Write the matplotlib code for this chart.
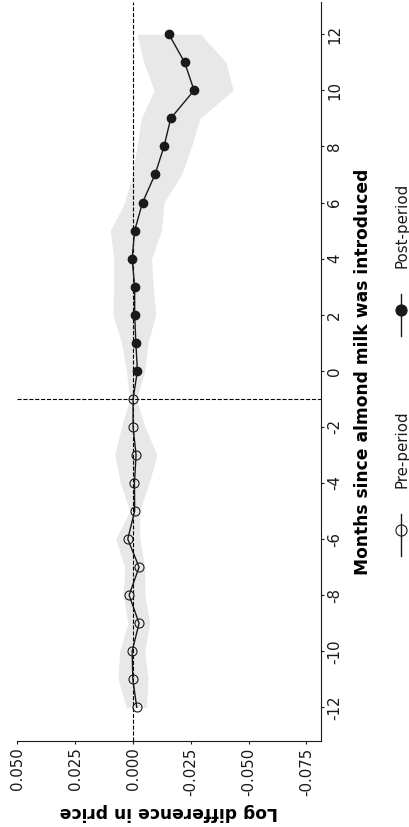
import numpy as np
import matplotlib.pyplot as plt
from matplotlib.lines import Line2D

# event-study estimates, months relative to almond milk launch
months = [-12, -11, -10, -9, -8, -7, -6, -5, -4, -3, -2, -1,
          0, 1, 2, 3, 4, 5, 6, 7, 8, 9, 10, 11, 12]
estimate = [-0.0016, 0.0001, 0.0004, -0.0026, 0.0017, -0.0026, 0.0023, -0.0007,
            -0.0006, -0.0013, 0.0000, 0.0000,
            -0.0019, -0.0012, -0.0007, -0.0007, 0.0004, -0.0007, -0.0041,
            -0.0095, -0.0134, -0.0163, -0.0264, -0.0223, -0.0155]
ci_upper = [0.0029, 0.0065, 0.0058, 0.0022, 0.0043, 0.0036, 0.0075, 0.0014,
            0.0055, 0.0079, 0.0050, 0.0014,
            0.0029, 0.0050, 0.0087, 0.0084, 0.0084, 0.0098, 0.0036,
            0.0003, -0.0017, -0.0036, -0.0091, -0.0046, -0.0017]
ci_lower = [-0.0058, -0.0065, -0.0051, -0.0072, -0.0051, -0.0051, -0.0029, -0.0029,
            -0.0069, -0.0104, -0.0051, -0.0015,
            -0.0051, -0.0065, -0.0098, -0.0087, -0.0080, -0.0123, -0.0134,
            -0.0210, -0.0253, -0.0289, -0.0433, -0.0402, -0.0293]

price_ticks = [0.05, 0.025, 0.0, -0.025, -0.05, -0.075]
price_labels = ["0.050", "0.025", "0.000", "-0.025", "-0.050", "-0.075"]
month_ticks = [-12, -10, -8, -6, -4, -2, 0, 2, 4, 6, 8, 10, 12]

months = np.array(months)
estimate = np.array(estimate)
pre = months < 0
post = months >= 0

W, H = 409, 827
fig = plt.figure(figsize=(W / 100, H / 100), dpi=100)
ax = fig.add_axes([17 / W, 86 / H, 304 / W, 739 / H])

ink = "#1a1a1a"

# chart is laid out sideways: price on the horizontal axis, months up the side
ax.fill_betweenx(months, ci_lower, ci_upper, color="#e8e8e8", lw=0, zorder=1)
ax.axvline(0, color="black", ls="--", lw=0.8, zorder=2)
ax.axhline(-1, color="black", ls="--", lw=0.8, zorder=2)
ax.plot(estimate, months, color=ink, lw=1.0, zorder=3)
ax.plot(estimate[pre], months[pre], "o", ms=6.5, mfc="none", mec=ink,
        mew=0.8, zorder=4)
ax.plot(estimate[post], months[post], "o", ms=6, mfc=ink, mec=ink, zorder=4)

ax.set_xlim(0.0502, -0.0813)
ax.set_ylim(-13.2, 13.15)

ax.spines["top"].set_visible(False)
ax.spines["left"].set_visible(False)
ax.spines["bottom"].set_color(ink)
ax.spines["right"].set_color(ink)
ax.yaxis.tick_right()
ax.yaxis.set_label_position("right")

ax.set_xticks(price_ticks)
ax.set_xticklabels(price_labels, rotation=90, ha="center", va="top")
ax.set_yticks(month_ticks)
ax.set_yticklabels([str(m) for m in month_ticks], rotation=90,
                   ha="left", va="center")
ax.tick_params(length=2.5, width=0.8, pad=2, labelsize=10.8, colors=ink)

ax.set_xlabel("Log difference in price", rotation=180, fontsize=12.3,
              fontweight="bold", ha="center", va="center")
ax.xaxis.set_label_coords(0.5, -0.096)
ax.set_ylabel("Months since almond milk was introduced", rotation=90,
              fontsize=12.3, fontweight="bold", ha="center", va="center")
ax.yaxis.set_label_coords((363 - 17) / 304, 0.5)


# legend drawn by hand so the keys run vertically
def legend_key(y_px, filled, label, text_y_px):
    x = 400.5 / W
    y = 1 - y_px / H
    fig.add_artist(Line2D([x, x], [y - 26 / H, y + 16 / H], color=ink, lw=1.0,
                          transform=fig.transFigure))
    fig.add_artist(Line2D([x], [y], marker="o", ms=8,
                          mfc=ink if filled else "none", mec=ink, mew=0.8,
                          transform=fig.transFigure))
    fig.text(402 / W, 1 - text_y_px / H, label, rotation=90, fontsize=10.8,
             color=ink, ha="center", va="center")


legend_key(530, False, "Pre-period", 449)
legend_key(310, True, "Post-period", 225)

fig.savefig("out.png", dpi=100)
